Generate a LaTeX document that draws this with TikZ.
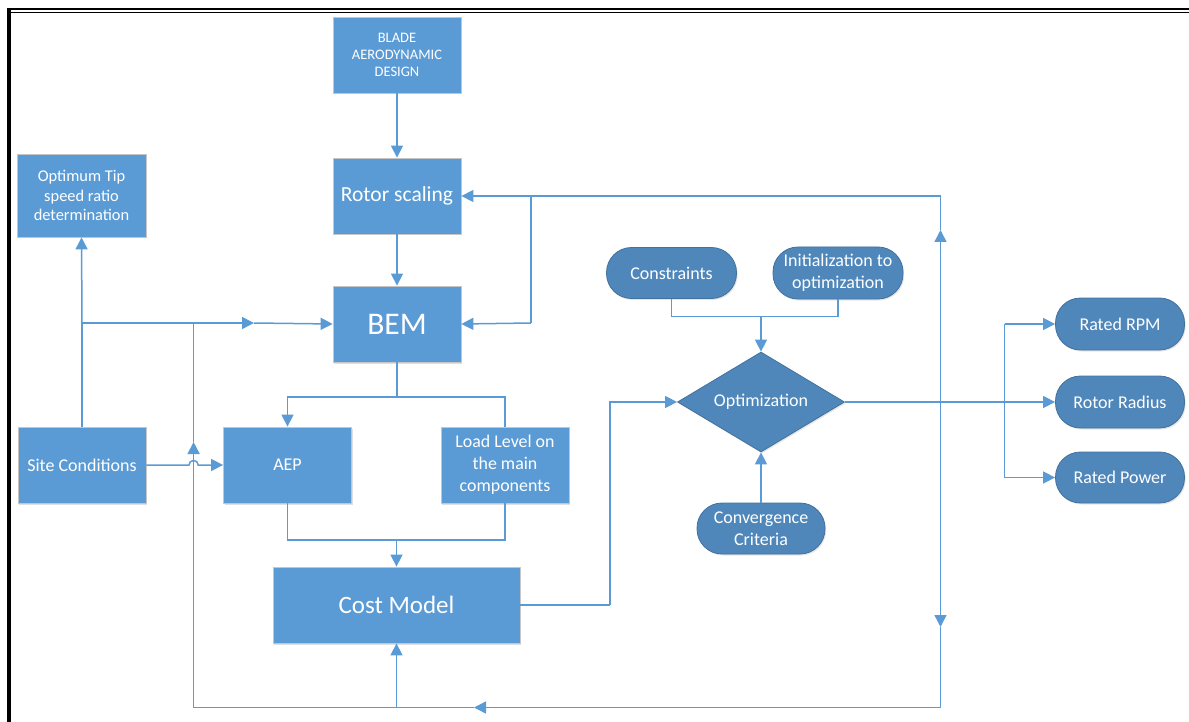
\documentclass[tikz,border=0pt]{standalone}
\usepackage{fontspec}
\setmainfont{Carlito}
\usetikzlibrary{arrows.meta,shapes.geometric,shadows}
\definecolor{boxblue}{HTML}{5B9BD5}
\definecolor{pillblue}{HTML}{4F87BB}
\definecolor{pillborder}{HTML}{41719C}
\definecolor{lineblue}{HTML}{5B9BD5}
\begin{document}
\begin{tikzpicture}[x=1pt,y=-1pt,
  rectbox/.style={rectangle, fill=boxblue, draw=gray!45, line width=0.8pt, text=white, align=center,
    inner sep=2pt, minimum width=128pt, minimum height=76pt,
    drop shadow={shadow xshift=1.2pt,shadow yshift=-1.5pt,opacity=0.25,fill=gray}},
  pill/.style={rectangle, rounded corners=25pt, fill=pillblue, draw=pillborder, line width=0.8pt,
    text=white, align=center, minimum width=130pt, minimum height=51pt, inner sep=2pt,
    font=\fontsize{18}{21.7}\selectfont,
    drop shadow={shadow xshift=1.2pt,shadow yshift=-1.5pt,opacity=0.2,fill=gray}},
  conn/.style={draw=lineblue, line width=1.5pt},
  arr/.style={conn, -{Triangle[length=12pt,width=12pt]}},
  frameline/.style={draw=black}
]
\useasboundingbox (0,0) rectangle (1189,722);
% frame
\draw[frameline, line width=2.5pt] (7,9.2) -- (1189,9.2);
\draw[frameline, line width=1pt] (10,12.2) -- (1189,12.2);
\draw[frameline, line width=4pt] (8.8,7.9) -- (8.8,722);

% nodes
\node[rectbox, font=\fontsize{14.5}{17}\selectfont] (blade) at (397,55) {BLADE\\AERODYNAMIC\\DESIGN};
\node[rectbox, font=\fontsize{21.5}{25}\selectfont] (rotor) at (397,196) {Rotor scaling};
\node[rectbox, minimum width=129pt, minimum height=83pt, font=\fontsize{16.4}{19.8}\selectfont] (tip) at (81.5,195.5) {Optimum Tip\\speed ratio\\determination};
\node[rectbox, font=\fontsize{31.5}{36}\selectfont] (bem) at (397,324) {BEM};
\node[rectbox, font=\fontsize{18}{21.8}\selectfont] (site) at (82,465) {Site Conditions};
\node[rectbox, font=\fontsize{18}{21.8}\selectfont] (aep) at (287.5,465) {AEP};
\node[rectbox, font=\fontsize{17.9}{21.8}\selectfont] (load) at (505,465) {Load Level on\\the main\\components};
\node[rectbox, minimum width=247pt, font=\fontsize{25}{29}\selectfont] (cost) at (396.5,605) {Cost Model};

\node[pill] (cons) at (671.5,273) {Constraints};
\node[pill, minimum height=52pt] (init) at (838,273) {Initialization to\\optimization};
\node[diamond, fill=pillblue, draw=pillborder, line width=0.8pt, text=white, aspect=1.67,
  minimum width=167pt, minimum height=100pt, inner sep=0pt,
  font=\fontsize{18}{21}\selectfont,
  drop shadow={shadow xshift=1.2pt,shadow yshift=-1.5pt,opacity=0.2,fill=gray}] (optim) at (761,402) {Optimization};
\node[pill, minimum width=128pt] (conv) at (761,528.5) {Convergence\\Criteria};
\node[pill, minimum width=129pt, minimum height=52pt] (rpm) at (1120,324) {Rated RPM};
\node[pill, minimum width=129pt, minimum height=52pt] (radius) at (1120,402) {Rotor Radius};
\node[pill, minimum width=129pt, minimum height=51pt] (power) at (1120,477.5) {Rated Power};

% coordinates
\coordinate (j1) at (82,323);
\coordinate (m1) at (254,323);
\coordinate (j2) at (193.6,323);
\coordinate (l1) at (193.6,442);
\coordinate (lb) at (193.6,707.5);
\coordinate (b1) at (474,707.5);
\coordinate (c1) at (396.5,707.5);
\coordinate (rb) at (940.5,707.5);
\coordinate (d1) at (940.5,627);
\coordinate (jr) at (940.5,402);
\coordinate (u1) at (940.5,230);
\coordinate (tr) at (940.5,196);
\coordinate (j4) at (531,196);
\coordinate (j5) at (531,323);
\coordinate (j3) at (397,397);
\coordinate (h1) at (189,465);
\coordinate (jb) at (396.5,540);
\coordinate (k1) at (610,605);
\coordinate (jc) at (761,316.7);
\coordinate (jo) at (1004.5,402);
\coordinate (jt) at (1004.5,324);
\coordinate (jp) at (1004.5,477.5);

% connectors
\draw[arr] (blade.south) -- (rotor.north);
\draw[arr] (rotor.south) -- (bem.north);
\draw[conn] (site.north) -- (j1);
\draw[arr] (j1) -- (tip.south);
\draw[arr] (j1) -- (m1);
\draw[arr] (m1) -- (bem.west);
\draw[arr] (site.east) -- (h1) arc[start angle=180,end angle=0,radius=4.6pt] -- (aep.west);

\draw[conn] (bem.south) -- (j3);
\draw[arr] (j3) -| (aep.north);
\draw[conn] (j3) -| (load.north);
\draw[conn] (aep.south) |- (jb);
\draw[conn] (load.south) |- (jb);
\draw[arr] (jb) -- (cost.north);

\draw[conn] (cost.east) -- (k1);
\draw[arr] (k1) |- (optim.west);

\draw[conn] (cons.south) |- (jc);
\draw[conn] (init.south) |- (jc);
\draw[arr] (jc) -- (optim.north);
\draw[arr] (conv.north) -- (optim.south);

\draw[conn] (optim.east) -- (jo);
\draw[arr] (jo) -- (radius.west);
\draw[conn] (jt) -- (jp);
\draw[arr] (jt) -- (rpm.west);
\draw[arr] (jp) -- (power.west);

% feedback loops
\draw[arr] (jr) -- (u1);
\draw[arr] (u1) -- (tr) -- (rotor.east);
\draw[conn] (j4) -- (j5);
\draw[arr] (j5) -- (bem.east);
\draw[arr] (jr) -- (d1);
\draw[conn] (d1) -- (rb);
\draw[arr] (rb) -- (b1);
\draw[conn] (b1) -- (lb);
\draw[arr] (lb) -- (l1);
\draw[conn] (l1) -- (j2);
\draw[arr] (c1) -- (cost.south);
\end{tikzpicture}
\end{document}
